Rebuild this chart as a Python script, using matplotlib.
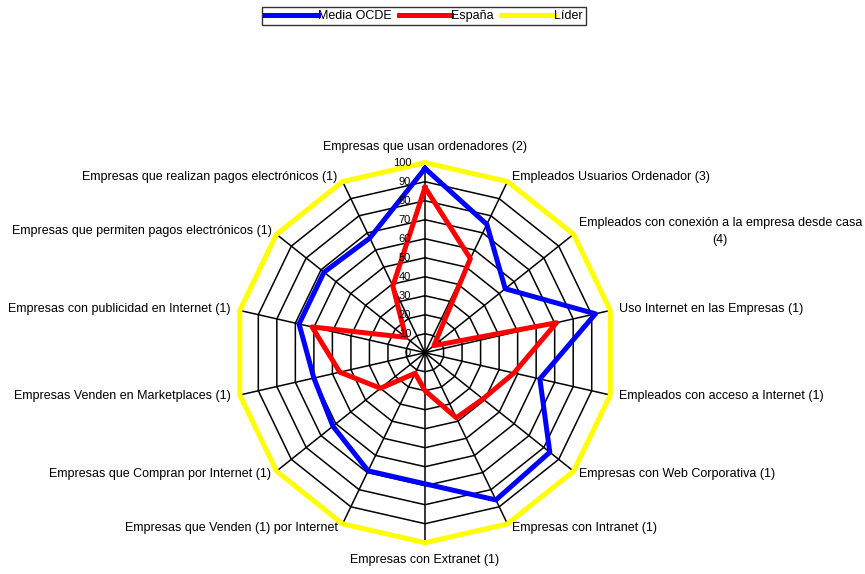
import numpy as np
import matplotlib.pyplot as plt

plt.rcParams['font.family'] = ['Liberation Sans', 'DejaVu Sans']

# ejes del radar, en sentido horario desde arriba
categorias = [
    "Empresas que usan ordenadores (2)",
    "Empleados Usuarios Ordenador (3)",
    "Empleados con conexión a la empresa desde casa\n(4)",
    "Uso Internet en las Empresas (1)",
    "Empleados con acceso a Internet (1)",
    "Empresas con Web Corporativa (1)",
    "Empresas con Intranet (1)",
    "Empresas con Extranet (1)",
    "Empresas que Venden (1) por Internet",
    "Empresas que Compran por Internet (1)",
    "Empresas Venden en Marketplaces (1)",
    "Empresas con publicidad en Internet (1)",
    "Empresas que permiten pagos electrónicos (1)",
    "Empresas que realizan pagos electrónicos (1)",
]
media_ocde = [97, 75, 54, 92, 62, 84, 86, 69, 69, 62, 60, 68, 68, 67]
espana = [87, 55, 6, 71, 48, 39, 38, 20, 12, 30, 46, 61, 13, 39]
lider = [100] * 14
niveles = list(range(0, 101, 10))

n = len(categorias)
angulos = np.linspace(0, 2 * np.pi, n, endpoint=False)
cerrado = np.append(angulos, angulos[0])

def cerrar(v):
    return list(v) + [v[0]]

fig = plt.figure(figsize=(8.65, 5.74), dpi=100)
ax = fig.add_axes([0.2717, 0.0545, 0.4393, 0.662], projection='polar')
ax.set_theta_zero_location('N')
ax.set_theta_direction(-1)
ax.set_ylim(0, 100)
ax.axis('off')

# rejilla poligonal
for r in niveles[1:]:
    ax.plot(cerrado, [r] * (n + 1), color='black', lw=1.1, clip_on=False, zorder=1)
for a in angulos:
    ax.plot([a, a], [0, 100], color='black', lw=1.1, clip_on=False, zorder=1)

# series
ax.plot(cerrado, cerrar(media_ocde), color='#0000ff', lw=3.6, clip_on=False,
        label='Media OCDE', zorder=3)
ax.plot(cerrado, cerrar(espana), color='#ff0000', lw=3.6, clip_on=False,
        label='España', zorder=3)
ax.plot(cerrado, cerrar(lider), color='#ffff00', lw=3.6, clip_on=False,
        label='Líder', zorder=2)

# etiquetas de escala
for r in niveles:
    ax.annotate(str(r), xy=(0, r), xytext=(-10, 0), textcoords='offset points',
                ha='right', va='center', fontsize=8, annotation_clip=False, zorder=4)

# etiquetas de categorias
px = 1 / 1.389
for a, lab in zip(angulos, categorias):
    s, c = np.sin(a), np.cos(a)
    if abs(s) < 0.01:
        ha = 'center'
        dx = 0
        dy = 11.3 if c > 0 else -12.5
    else:
        ha = 'left' if s > 0 else 'right'
        dx = (9 if abs(s) > 0.9 else 5) * px * np.sign(s)
        dy = 4.5 * c * px
    ax.annotate(lab, xy=(a, 100), xytext=(dx, dy), textcoords='offset points',
                ha=ha, va='center', fontsize=9, multialignment='center',
                linespacing=1.5, annotation_clip=False)

leg = fig.legend(loc='upper center', bbox_to_anchor=(0.49, 0.988), ncol=3,
                 frameon=True, fancybox=False, edgecolor='black', fontsize=9,
                 handlelength=4.2, handletextpad=0.0, columnspacing=0.6,
                 borderpad=0.25, borderaxespad=0)
leg.get_frame().set_linewidth(1.0)

fig.savefig('out.png', dpi=100)
